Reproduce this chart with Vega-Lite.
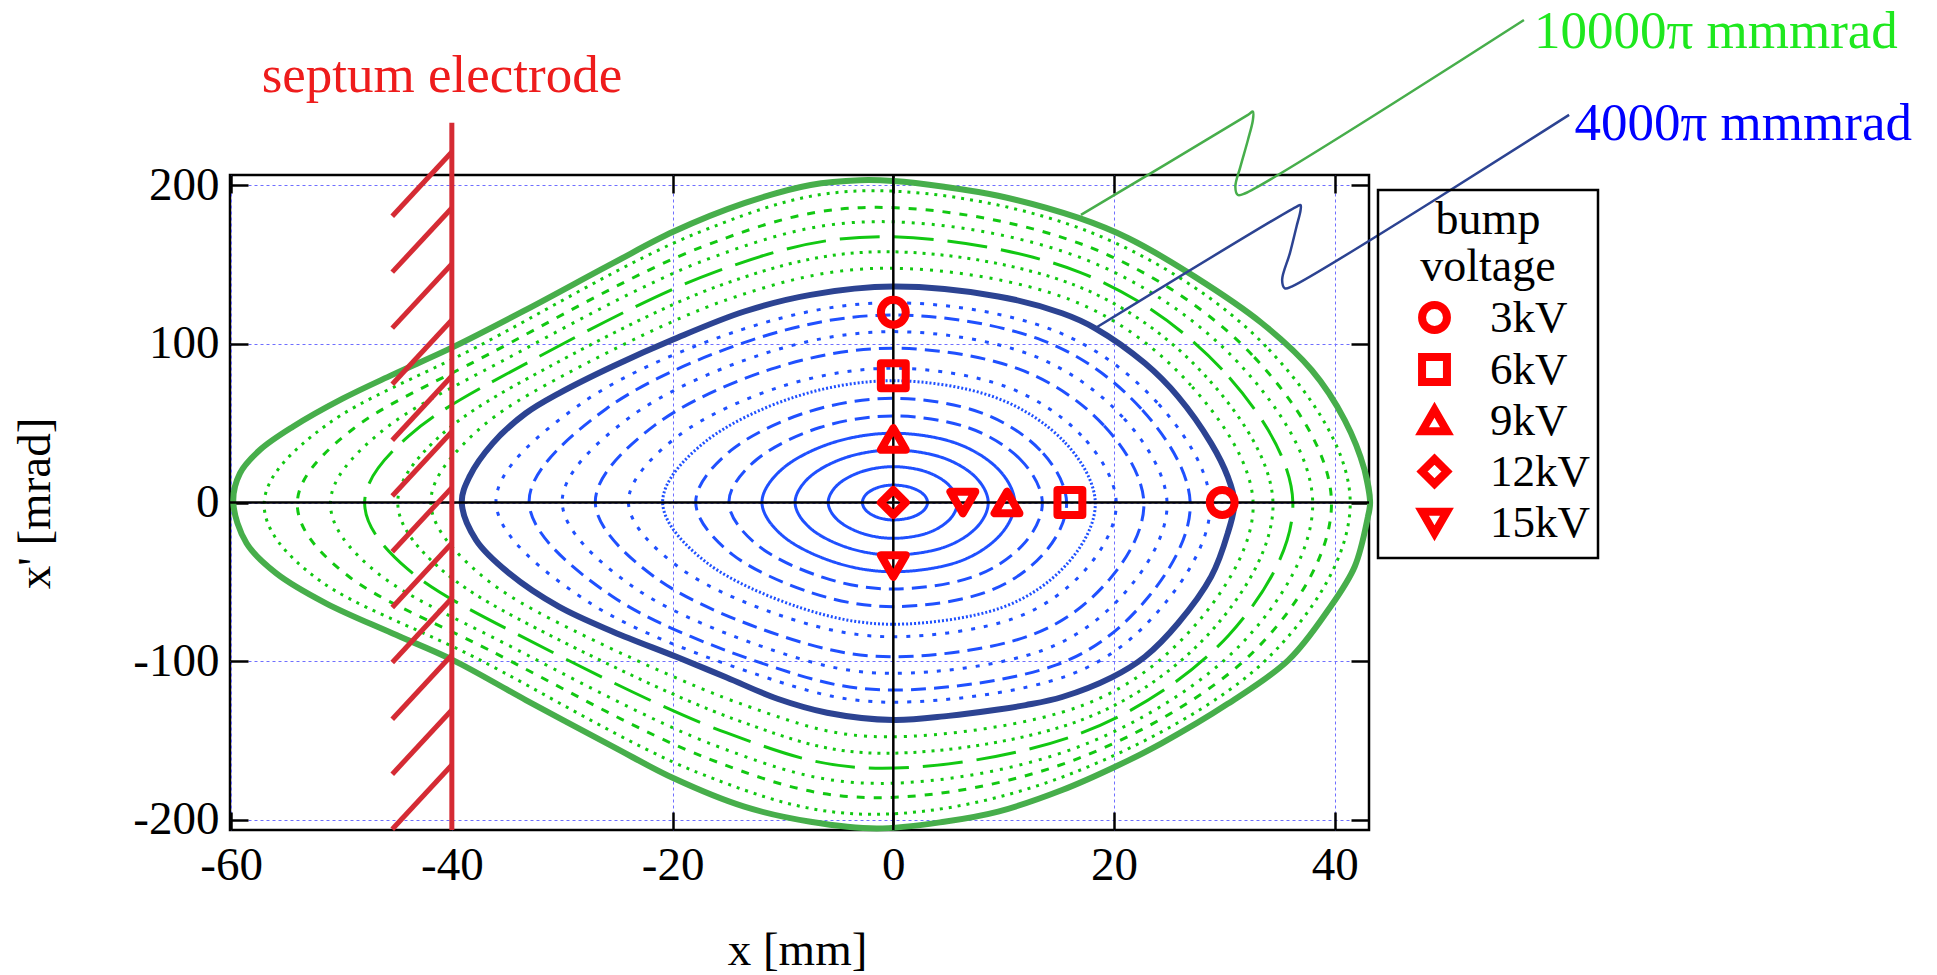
{
"$schema":"https://vega.github.io/schema/vega-lite/v6.json",
"width":1139,"height":655,
"autosize":{"type":"none"},
"padding":{"left":230,"top":175,"right":568,"bottom":145},
"background":"white",
"config":{
 "view":{"stroke":"black","strokeWidth":2.5},
 "font":"Liberation Serif",
 "axis":{"labelFont":"Liberation Serif","titleFont":"Liberation Serif","labelFontSize":47,"titleFontSize":47,"titleFontWeight":"normal","labelColor":"black","titleColor":"black","tickColor":"black","tickWidth":2.5,"domain":false,"gridColor":"#6f6fff","gridDash":[3,3],"gridWidth":1,"labelFlush":false,"labelOverlap":false,"labelExpr":"'' + datum.value"},
 "legend":{"strokeWidth":2.5}
},
"datasets":{
"blue":[
{"c":"b1","k":0,"x":3.1,"y":0},{"c":"b1","k":1,"x":2.68,"y":5.5},{"c":"b1","k":2,"x":1.55,"y":9.53},{"c":"b1","k":3,"x":0,"y":11},{"c":"b1","k":4,"x":-1.37,"y":9.53},{"c":"b1","k":5,"x":-2.41,"y":5.5},{"c":"b1","k":6,"x":-2.8,"y":0},{"c":"b1","k":7,"x":-2.4,"y":-5.5},{"c":"b1","k":8,"x":-1.36,"y":-9.53},{"c":"b1","k":9,"x":0,"y":-11},{"c":"b1","k":10,"x":1.56,"y":-9.53},{"c":"b1","k":11,"x":2.68,"y":-5.5},
{"c":"b2","k":0,"x":5.8,"y":0},{"c":"b2","k":1,"x":4.99,"y":11.3},{"c":"b2","k":2,"x":2.9,"y":19.57},{"c":"b2","k":3,"x":0,"y":22.6},{"c":"b2","k":4,"x":-2.82,"y":19.57},{"c":"b2","k":5,"x":-5.02,"y":11.3},{"c":"b2","k":6,"x":-5.9,"y":0},{"c":"b2","k":7,"x":-5.0,"y":-11.3},{"c":"b2","k":8,"x":-2.77,"y":-19.57},{"c":"b2","k":9,"x":0,"y":-22.6},{"c":"b2","k":10,"x":2.96,"y":-19.57},{"c":"b2","k":11,"x":5.02,"y":-11.3},
{"c":"b3","k":0,"x":8.6,"y":0},{"c":"b3","k":1,"x":7.37,"y":16.55},{"c":"b3","k":2,"x":4.3,"y":28.66},{"c":"b3","k":3,"x":0,"y":33.1},{"c":"b3","k":4,"x":-4.17,"y":28.66},{"c":"b3","k":5,"x":-7.5,"y":16.55},{"c":"b3","k":6,"x":-8.9,"y":0},{"c":"b3","k":7,"x":-7.47,"y":-16.55},{"c":"b3","k":8,"x":-4.06,"y":-28.66},{"c":"b3","k":9,"x":0,"y":-33.1},{"c":"b3","k":10,"x":4.42,"y":-28.66},{"c":"b3","k":11,"x":7.43,"y":-16.55},
{"c":"b4","k":0,"x":11,"y":0},{"c":"b4","k":1,"x":9.39,"y":21.85},{"c":"b4","k":2,"x":5.5,"y":37.84},{"c":"b4","k":3,"x":0,"y":43.7},{"c":"b4","k":4,"x":-5.44,"y":37.84},{"c":"b4","k":5,"x":-9.95,"y":21.85},{"c":"b4","k":6,"x":-11.9,"y":0},{"c":"b4","k":7,"x":-9.88,"y":-21.85},{"c":"b4","k":8,"x":-5.25,"y":-37.84},{"c":"b4","k":9,"x":0,"y":-43.7},{"c":"b4","k":10,"x":5.71,"y":-37.84},{"c":"b4","k":11,"x":9.5,"y":-21.85},
{"c":"b5","k":0,"x":13.5,"y":0},{"c":"b5","k":1,"x":11.49,"y":27.3},{"c":"b5","k":2,"x":6.75,"y":47.28},{"c":"b5","k":3,"x":0,"y":54.6},{"c":"b5","k":4,"x":-6.66,"y":47.28},{"c":"b5","k":5,"x":-12.35,"y":27.3},{"c":"b5","k":6,"x":-14.9,"y":0},{"c":"b5","k":7,"x":-12.23,"y":-27.3},{"c":"b5","k":8,"x":-6.36,"y":-47.28},{"c":"b5","k":9,"x":0,"y":-54.6},{"c":"b5","k":10,"x":7.06,"y":-47.28},{"c":"b5","k":11,"x":11.66,"y":-27.3},
{"c":"b6","k":0,"x":15.7,"y":0},{"c":"b6","k":1,"x":13.33,"y":32.85},{"c":"b6","k":2,"x":7.85,"y":56.9},{"c":"b6","k":3,"x":0,"y":65.7},{"c":"b6","k":4,"x":-7.84,"y":56.9},{"c":"b6","k":5,"x":-14.71,"y":32.85},{"c":"b6","k":6,"x":-17.9,"y":0},{"c":"b6","k":7,"x":-14.57,"y":-32.85},{"c":"b6","k":8,"x":-7.43,"y":-56.9},{"c":"b6","k":9,"x":0,"y":-65.7},{"c":"b6","k":10,"x":8.27,"y":-56.9},{"c":"b6","k":11,"x":13.55,"y":-32.85},
{"c":"b7","k":0,"x":18.3,"y":0},{"c":"b7","k":1,"x":15.48,"y":38.4},{"c":"b7","k":2,"x":9.15,"y":66.51},{"c":"b7","k":3,"x":0,"y":76.8},{"c":"b7","k":4,"x":-8.95,"y":66.51},{"c":"b7","k":5,"x":-17.03,"y":38.4},{"c":"b7","k":6,"x":-20.9,"y":0},{"c":"b7","k":7,"x":-16.82,"y":-38.4},{"c":"b7","k":8,"x":-8.36,"y":-66.51},{"c":"b7","k":9,"x":0,"y":-76.8},{"c":"b7","k":10,"x":9.74,"y":-66.51},{"c":"b7","k":11,"x":15.79,"y":-38.4},
{"c":"b8","k":0,"x":20.2,"y":0},{"c":"b8","k":1,"x":17.03,"y":42.35},{"c":"b8","k":2,"x":10.1,"y":73.35},{"c":"b8","k":3,"x":0,"y":84.7},{"c":"b8","k":4,"x":-10.06,"y":73.35},{"c":"b8","k":5,"x":-19.42,"y":42.35},{"c":"b8","k":6,"x":-24,"y":0},{"c":"b8","k":7,"x":-19.13,"y":-42.35},{"c":"b8","k":8,"x":-9.31,"y":-73.35},{"c":"b8","k":9,"x":0,"y":-84.7},{"c":"b8","k":10,"x":10.83,"y":-73.35},{"c":"b8","k":11,"x":17.41,"y":-42.35},
{"c":"b9","k":0,"x":22.7,"y":0},{"c":"b9","k":1,"x":19.07,"y":48.65},{"c":"b9","k":2,"x":11.35,"y":84.26},{"c":"b9","k":3,"x":0,"y":97.3},{"c":"b9","k":4,"x":-11.02,"y":84.26},{"c":"b9","k":5,"x":-21.63,"y":48.65},{"c":"b9","k":6,"x":-27,"y":0},{"c":"b9","k":7,"x":-21.3,"y":-48.65},{"c":"b9","k":8,"x":-10.1,"y":-84.26},{"c":"b9","k":9,"x":0,"y":-97.3},{"c":"b9","k":10,"x":12.26,"y":-84.26},{"c":"b9","k":11,"x":19.57,"y":-48.65},
{"c":"b10","k":0,"x":24.8,"y":0},{"c":"b10","k":1,"x":20.78,"y":53.9},{"c":"b10","k":2,"x":12.4,"y":93.35},{"c":"b10","k":3,"x":0,"y":107.8},{"c":"b10","k":4,"x":-11.97,"y":93.35},{"c":"b10","k":5,"x":-23.85,"y":53.9},{"c":"b10","k":6,"x":-30,"y":0},{"c":"b10","k":7,"x":-23.43,"y":-53.9},{"c":"b10","k":8,"x":-10.83,"y":-93.35},{"c":"b10","k":9,"x":0,"y":-107.8},{"c":"b10","k":10,"x":13.49,"y":-93.35},{"c":"b10","k":11,"x":21.35,"y":-53.9},
{"c":"b11","k":0,"x":26.9,"y":0},{"c":"b11","k":1,"x":22.46,"y":59.15},{"c":"b11","k":2,"x":13.45,"y":102.45},{"c":"b11","k":3,"x":0,"y":118.3},{"c":"b11","k":4,"x":-12.84,"y":102.45},{"c":"b11","k":5,"x":-26.0,"y":59.15},{"c":"b11","k":6,"x":-33,"y":0},{"c":"b11","k":7,"x":-25.48,"y":-59.15},{"c":"b11","k":8,"x":-11.45,"y":-102.45},{"c":"b11","k":9,"x":0,"y":-118.3},{"c":"b11","k":10,"x":14.77,"y":-102.45},{"c":"b11","k":11,"x":23.16,"y":-59.15},
{"c":"b12","k":0,"x":28.7,"y":0},{"c":"b12","k":1,"x":23.91,"y":63},{"c":"b12","k":2,"x":14.35,"y":109.1},{"c":"b12","k":3,"x":0,"y":126},{"c":"b12","k":4,"x":-13.72,"y":109.1},{"c":"b12","k":5,"x":-28.15,"y":63},{"c":"b12","k":6,"x":-36,"y":0},{"c":"b12","k":7,"x":-27.58,"y":-63},{"c":"b12","k":8,"x":-12.1,"y":-109.1},{"c":"b12","k":9,"x":0,"y":-126},{"c":"b12","k":10,"x":15.84,"y":-109.1},{"c":"b12","k":11,"x":24.68,"y":-63}
],
"green":[
{"c":"g1","k":0,"x":32.6,"y":0},{"c":"g1","k":1,"x":26.96,"y":73.9},{"c":"g1","k":2,"x":16.0,"y":128},{"c":"g1","k":3,"x":-0.5,"y":147.8},{"c":"g1","k":4,"x":-15.04,"y":128},{"c":"g1","k":5,"x":-31.55,"y":73.9},{"c":"g1","k":6,"x":-38.93,"y":36.95},{"c":"g1","k":7,"x":-41.9,"y":0},{"c":"g1","k":8,"x":-38.76,"y":-36.95},{"c":"g1","k":9,"x":-30.92,"y":-73.9},{"c":"g1","k":10,"x":-13.41,"y":-128},{"c":"g1","k":11,"x":-0.5,"y":-147.8},{"c":"g1","k":12,"x":17.15,"y":-128},{"c":"g1","k":13,"x":27.78,"y":-73.9},
{"c":"g2","k":0,"x":34.4,"y":0},{"c":"g2","k":1,"x":28.38,"y":79.1},{"c":"g2","k":2,"x":16.48,"y":137},{"c":"g2","k":3,"x":-0.7,"y":158.2},{"c":"g2","k":4,"x":-15.67,"y":137},{"c":"g2","k":5,"x":-32.91,"y":79.1},{"c":"g2","k":6,"x":-41.44,"y":39.55},{"c":"g2","k":7,"x":-44.9,"y":0},{"c":"g2","k":8,"x":-41.4,"y":-39.55},{"c":"g2","k":9,"x":-32.42,"y":-79.1},{"c":"g2","k":10,"x":-14.28,"y":-137},{"c":"g2","k":11,"x":-0.7,"y":-158.2},{"c":"g2","k":12,"x":17.13,"y":-137},{"c":"g2","k":13,"x":29.07,"y":-79.1},
{"c":"g3","k":0,"x":36.2,"y":0},{"c":"g3","k":1,"x":29.79,"y":83.85},{"c":"g3","k":2,"x":16.91,"y":145.2},{"c":"g3","k":3,"x":-1,"y":167.7},{"c":"g3","k":4,"x":-16.24,"y":145.2},{"c":"g3","k":5,"x":-34.3,"y":83.85},{"c":"g3","k":6,"x":-43.92,"y":41.9},{"c":"g3","k":7,"x":-47.9,"y":0},{"c":"g3","k":8,"x":-44.02,"y":-41.9},{"c":"g3","k":9,"x":-33.87,"y":-83.85},{"c":"g3","k":10,"x":-15.14,"y":-145.2},{"c":"g3","k":11,"x":-1,"y":-167.7},{"c":"g3","k":12,"x":17.12,"y":-145.2},{"c":"g3","k":13,"x":30.37,"y":-83.85},
{"c":"g4","k":0,"x":38,"y":0},{"c":"g4","k":1,"x":31.2,"y":88.6},{"c":"g4","k":2,"x":17.33,"y":153.5},{"c":"g4","k":3,"x":-1.2,"y":177.2},{"c":"g4","k":4,"x":-16.83,"y":153.5},{"c":"g4","k":5,"x":-35.6,"y":88.6},{"c":"g4","k":6,"x":-46.46,"y":44.3},{"c":"g4","k":7,"x":-51,"y":0},{"c":"g4","k":8,"x":-46.77,"y":-44.3},{"c":"g4","k":9,"x":-35.29,"y":-88.6},{"c":"g4","k":10,"x":-16.07,"y":-153.5},{"c":"g4","k":11,"x":-1.2,"y":-177.2},{"c":"g4","k":12,"x":17.02,"y":-153.5},{"c":"g4","k":13,"x":31.62,"y":-88.6},
{"c":"g5","k":0,"x":39.7,"y":0},{"c":"g5","k":1,"x":32.51,"y":93.1},{"c":"g5","k":2,"x":17.71,"y":161.25},{"c":"g5","k":3,"x":-1.5,"y":186.2},{"c":"g5","k":4,"x":-17.33,"y":161.25},{"c":"g5","k":5,"x":-36.77,"y":93.1},{"c":"g5","k":6,"x":-48.92,"y":46.55},{"c":"g5","k":7,"x":-54,"y":0},{"c":"g5","k":8,"x":-49.36,"y":-46.55},{"c":"g5","k":9,"x":-36.61,"y":-93.1},{"c":"g5","k":10,"x":-16.9,"y":-161.25},{"c":"g5","k":11,"x":-1.5,"y":-186.2},{"c":"g5","k":12,"x":16.83,"y":-161.25},{"c":"g5","k":13,"x":32.79,"y":-93.1},
{"c":"g6","k":0,"x":41.4,"y":0},{"c":"g6","k":1,"x":33.78,"y":98.35},{"c":"g6","k":2,"x":17.93,"y":170.3},{"c":"g6","k":3,"x":-1.8,"y":196.7},{"c":"g6","k":4,"x":-17.67,"y":170.3},{"c":"g6","k":5,"x":-37.68,"y":98.35},{"c":"g6","k":6,"x":-51.3,"y":49.2},{"c":"g6","k":7,"x":-57,"y":0},{"c":"g6","k":8,"x":-51.98,"y":-49.2},{"c":"g6","k":9,"x":-37.73,"y":-98.35},{"c":"g6","k":10,"x":-17.73,"y":-170.3},{"c":"g6","k":11,"x":-1.8,"y":-196.7},{"c":"g6","k":12,"x":16.39,"y":-170.3},{"c":"g6","k":13,"x":33.91,"y":-98.35}
],
"navy":[
{"k":-1,"x":30.3,"y":-19.4},
{"k":0,"x":30.9,"y":0},{"k":1,"x":30.3,"y":16.3},{"k":2,"x":28.8,"y":37.3},{"k":3,"x":25.8,"y":66.8},{"k":4,"x":22.8,"y":87.8},{"k":5,"x":18.3,"y":109.9},{"k":6,"x":15.3,"y":119.4},{"k":7,"x":9.5,"y":130},{"k":8,"x":0,"y":136.2},{"k":9,"x":-7.5,"y":131.0},{"k":10,"x":-13.5,"y":120.5},{"k":11,"x":-19.9,"y":103.0},{"k":12,"x":-25.4,"y":86.0},{"k":13,"x":-30.3,"y":68.9},{"k":14,"x":-33.3,"y":56.3},{"k":15,"x":-36.3,"y":37.3},{"k":16,"x":-38.4,"y":16.3},{"k":17,"x":-39.1,"y":0},{"k":18,"x":-37.8,"y":-23.7},{"k":19,"x":-34.8,"y":-44.7},{"k":20,"x":-30.3,"y":-65.7},{"k":21,"x":-25.4,"y":-81.5},{"k":22,"x":-19.6,"y":-97.5},{"k":23,"x":-15.1,"y":-110.4},{"k":24,"x":-10.5,"y":-123.8},{"k":25,"x":-6,"y":-132.6},{"k":26,"x":0,"y":-137.2},{"k":27,"x":5,"y":-134.6},{"k":28,"x":9.5,"y":-130.6},{"k":29,"x":12,"y":-127.8},{"k":30,"x":15.3,"y":-122.7},{"k":31,"x":19.8,"y":-110.3},{"k":32,"x":22.8,"y":-97.3},{"k":33,"x":25.8,"y":-76.2},{"k":34,"x":28.8,"y":-46.8},{"k":35,"x":30.3,"y":-19.4},
{"k":36,"x":30.9,"y":0},{"k":37,"x":30.3,"y":16.3}
],
"gthick":[
{"k":-1,"x":43,"y":-9},
{"k":0,"x":43.2,"y":0},{"k":1,"x":42.7,"y":20.5},{"k":2,"x":40.9,"y":52},{"k":3,"x":37.9,"y":83.6},{"k":4,"x":33.4,"y":113.1},{"k":5,"x":27.3,"y":142.5},{"k":6,"x":21.3,"y":166.7},{"k":7,"x":16.8,"y":179.5},{"k":8,"x":9.5,"y":193.5},{"k":9,"x":4.6,"y":199.2},{"k":10,"x":0,"y":202.8},{"k":11,"x":-3,"y":203.3},{"k":12,"x":-7.5,"y":200.3},{"k":13,"x":-13.5,"y":188.8},{"k":14,"x":-19.9,"y":170.9},{"k":15,"x":-25.4,"y":151},{"k":16,"x":-33.3,"y":121.5},{"k":17,"x":-39.9,"y":98},{"k":18,"x":-45.4,"y":80.5},{"k":19,"x":-49.9,"y":65.5},{"k":20,"x":-54.4,"y":47.8},{"k":21,"x":-57.4,"y":33.1},{"k":22,"x":-59.2,"y":18.4},{"k":23,"x":-59.8,"y":0},{"k":24,"x":-58.6,"y":-25.7},{"k":25,"x":-55.9,"y":-44.7},{"k":26,"x":-51.4,"y":-63.6},{"k":27,"x":-45.4,"y":-82.5},{"k":28,"x":-39.9,"y":-99.4},{"k":29,"x":-33.3,"y":-124.6},{"k":30,"x":-25.4,"y":-154},{"k":31,"x":-19.9,"y":-174},{"k":32,"x":-13.5,"y":-191.9},{"k":33,"x":-7.5,"y":-201.4},{"k":34,"x":-1.5,"y":-205.6},{"k":35,"x":4.6,"y":-201.4},{"k":36,"x":9.5,"y":-195},{"k":37,"x":15.3,"y":-181.4},{"k":38,"x":20.1,"y":-166.7},{"k":39,"x":24.3,"y":-151.9},{"k":40,"x":30.3,"y":-127},{"k":41,"x":35.8,"y":-99.4},{"k":42,"x":39.4,"y":-67.8},{"k":43,"x":41.8,"y":-40.5},{"k":44,"x":43,"y":-9},
{"k":45,"x":43.2,"y":0},{"k":46,"x":42.7,"y":20.5}
],
"lead":[
{"c":"g","k":0,"x":17.0,"y":181.4},{"c":"g","k":1,"x":32.13,"y":244.5},{"c":"g","k":2,"x":32.58,"y":246.6},{"c":"g","k":3,"x":32.58,"y":241.3},{"c":"g","k":4,"x":32.13,"y":228.7},{"c":"g","k":5,"x":31.45,"y":211.9},{"c":"g","k":6,"x":30.99,"y":199.2},{"c":"g","k":7,"x":31.22,"y":194.0},{"c":"g","k":8,"x":31.9,"y":195.1},{"c":"g","k":9,"x":57.14,"y":304.4},
{"c":"b","k":0,"x":18.28,"y":109.9},{"c":"b","k":1,"x":36.47,"y":186.4},{"c":"b","k":2,"x":36.9,"y":187.7},{"c":"b","k":3,"x":36.9,"y":184.5},{"c":"b","k":4,"x":36.53,"y":174},{"c":"b","k":5,"x":35.93,"y":157.2},{"c":"b","k":6,"x":35.23,"y":140.4},{"c":"b","k":7,"x":35.48,"y":135.1},{"c":"b","k":8,"x":36.09,"y":136.2},{"c":"b","k":9,"x":61.23,"y":244.5}
],
"septum":[
{"x":-40,"x2":-40,"y":-206.6,"y2":239.6},
{"x":-40,"x2":-45.4,"y":221.1,"y2":180.6},{"x":-40,"x2":-45.4,"y":185.8,"y2":145.3},{"x":-40,"x2":-45.4,"y":150.5,"y2":110.0},{"x":-40,"x2":-45.4,"y":115.1,"y2":74.6},{"x":-40,"x2":-45.4,"y":79.8,"y2":39.3},{"x":-40,"x2":-45.4,"y":44.6,"y2":4.1},{"x":-40,"x2":-45.4,"y":9.4,"y2":-31.1},{"x":-40,"x2":-45.4,"y":-25.7,"y2":-66.2},{"x":-40,"x2":-45.4,"y":-60.4,"y2":-100.9},{"x":-40,"x2":-45.4,"y":-96.2,"y2":-136.7},{"x":-40,"x2":-45.4,"y":-130.9,"y2":-171.4},{"x":-40,"x2":-45.4,"y":-165.6,"y2":-206.1}
],
"marks":[
{"v":"3kV","x":0,"y":120},{"v":"3kV","x":29.8,"y":0},{"v":"6kV","x":0,"y":80},{"v":"6kV","x":16,"y":0},{"v":"9kV","x":0,"y":40},{"v":"9kV","x":10.3,"y":0},{"v":"12kV","x":0,"y":0},{"v":"15kV","x":0,"y":-40},{"v":"15kV","x":6.3,"y":0}
]
},
"layer":[
{"data":{"name":"blue"},
 "mark":{"type":"line","interpolate":"cardinal-closed","color":"#1f50ff","strokeWidth":3},
 "encoding":{
  "x":{"field":"x","type":"quantitative","scale":{"domain":[-60.1,43.1],"nice":false,"zero":false},
   "axis":{"orient":"bottom","values":[-60,-40,-20,0,20,40],"title":"x [mm]","tickSize":-18,"labelPadding":30,"grid":true,"titleX":567,"titleY":134.5,"titleAlign":"center","titleBaseline":"alphabetic"}},
  "y":{"field":"y","type":"quantitative","scale":{"domain":[-206.6,206.6],"nice":false,"zero":false},
   "axis":{"orient":"left","values":[-200,-100,0,100,200],"title":"x' [mrad]","tickSize":-18,"labelPadding":29,"grid":true,"titleX":-180.5,"titleY":328,"titleAngle":-90,"titleAlign":"center","titleBaseline":"alphabetic"}},
  "strokeDash":{"field":"c","type":"nominal","legend":null,"scale":{
   "domain":["b1","b2","b3","b4","b5","b6","b7","b8","b9","b10","b11","b12","g1","g2","g3","g4","g5","g6"],
   "range":[[1,0],[1,0],[1,0],[1,0],[15,8],[15,8],[2,2],[4,9],[15,8],[4,9],[15,8],[4,9],[3,7],[3,6],[40,14],[3,7],[8,9],[3,6]]}},
  "order":{"field":"k","type":"quantitative"}
 }},
{"data":{"name":"green"},
 "mark":{"type":"line","interpolate":"cardinal-closed","color":"#12c812","strokeWidth":3},
 "encoding":{
  "x":{"field":"x","type":"quantitative","scale":{"domain":[-60.1,43.1],"nice":false,"zero":false},
   "axis":{"orient":"top","values":[-60,-40,-20,0,20,40],"labels":false,"title":null,"tickSize":-18,"grid":false}},
  "y":{"field":"y","type":"quantitative","scale":{"domain":[-206.6,206.6],"nice":false,"zero":false},
   "axis":{"orient":"right","values":[-200,-100,0,100,200],"labels":false,"title":null,"tickSize":-18,"grid":false}},
  "strokeDash":{"field":"c","type":"nominal","legend":null},
  "order":{"field":"k","type":"quantitative"}
 }},
{"data":{"name":"navy"},
 "mark":{"type":"line","interpolate":"catmull-rom","color":"#2c4392","strokeWidth":6},
 "encoding":{
  "x":{"field":"x","type":"quantitative","scale":{"domain":[-60.1,43.1],"nice":false,"zero":false},"axis":null},
  "y":{"field":"y","type":"quantitative","scale":{"domain":[-206.6,206.6],"nice":false,"zero":false},"axis":null},
  "order":{"field":"k","type":"quantitative"}
 }},
{"data":{"name":"gthick"},
 "mark":{"type":"line","interpolate":"catmull-rom","color":"#47ae4b","strokeWidth":6},
 "encoding":{
  "x":{"field":"x","type":"quantitative","scale":{"domain":[-60.1,43.1],"nice":false,"zero":false},"axis":null},
  "y":{"field":"y","type":"quantitative","scale":{"domain":[-206.6,206.6],"nice":false,"zero":false},"axis":null},
  "order":{"field":"k","type":"quantitative"}
 }},
{"data":{"values":[{"x":0}]},
 "mark":{"type":"rule","color":"black","strokeWidth":2.5},
 "encoding":{"x":{"field":"x","type":"quantitative","scale":{"domain":[-60.1,43.1],"nice":false,"zero":false},"axis":null}}},
{"data":{"values":[{"y":0}]},
 "mark":{"type":"rule","color":"black","strokeWidth":2.5},
 "encoding":{"y":{"field":"y","type":"quantitative","scale":{"domain":[-206.6,206.6],"nice":false,"zero":false},"axis":null}}},
{"data":{"name":"septum"},
 "mark":{"type":"rule","color":"#d52b34","strokeWidth":5},
 "encoding":{
  "x":{"field":"x","type":"quantitative","scale":{"domain":[-60.1,43.1],"nice":false,"zero":false},"axis":null},
  "x2":{"field":"x2"},
  "y":{"field":"y","type":"quantitative","scale":{"domain":[-206.6,206.6],"nice":false,"zero":false},"axis":null},
  "y2":{"field":"y2"}
 }},
{"data":{"name":"lead"},
 "transform":[{"filter":"datum.c === 'g'"}],
 "mark":{"type":"line","interpolate":"catmull-rom","color":"#47ae4b","strokeWidth":2.5},
 "encoding":{
  "x":{"field":"x","type":"quantitative","scale":{"domain":[-60.1,43.1],"nice":false,"zero":false},"axis":null},
  "y":{"field":"y","type":"quantitative","scale":{"domain":[-206.6,206.6],"nice":false,"zero":false},"axis":null},
  "order":{"field":"k","type":"quantitative"}
 }},
{"data":{"name":"lead"},
 "transform":[{"filter":"datum.c === 'b'"}],
 "mark":{"type":"line","interpolate":"catmull-rom","color":"#2c4392","strokeWidth":2.5},
 "encoding":{
  "x":{"field":"x","type":"quantitative","scale":{"domain":[-60.1,43.1],"nice":false,"zero":false},"axis":null},
  "y":{"field":"y","type":"quantitative","scale":{"domain":[-206.6,206.6],"nice":false,"zero":false},"axis":null},
  "order":{"field":"k","type":"quantitative"}
 }},
{"data":{"name":"marks"},
 "mark":{"type":"point","filled":false,"color":"#ff0000","strokeWidth":8,"size":620,"strokeJoin":"round","opacity":1},
 "encoding":{
  "x":{"field":"x","type":"quantitative","scale":{"domain":[-60.1,43.1],"nice":false,"zero":false},"axis":null},
  "y":{"field":"y","type":"quantitative","scale":{"domain":[-206.6,206.6],"nice":false,"zero":false},"axis":null},
  "shape":{"field":"v","type":"nominal","scale":{"domain":["3kV","6kV","9kV","12kV","15kV"],"range":["circle","square","triangle-up","diamond","triangle-down"]},
   "legend":{"orient":"none","legendX":1148,"legendY":15,"title":["bump","voltage"],"titleFont":"Liberation Serif","titleFontSize":46,"titleFontWeight":"normal","titleColor":"black","titleLineHeight":47,"titleAnchor":"middle","titlePadding":4,"labelFont":"Liberation Serif","labelFontSize":45,"labelColor":"black","labelOffset":33,"symbolSize":620,"symbolStrokeWidth":8,"symbolStrokeColor":"#ff0000","symbolOffset":26,"strokeColor":"black","padding":8,"rowPadding":-5}}
 }},
{"data":{"values":[{"t":"septum electrode","x":-40.9,"y":259}]},
 "mark":{"type":"text","align":"center","baseline":"alphabetic","font":"Liberation Serif","fontSize":53,"color":"#ee1c1c"},
 "encoding":{
  "x":{"field":"x","type":"quantitative","scale":{"domain":[-60.1,43.1],"nice":false,"zero":false},"axis":null},
  "y":{"field":"y","type":"quantitative","scale":{"domain":[-206.6,206.6],"nice":false,"zero":false},"axis":null},
  "text":{"field":"t"}
 }},
{"data":{"values":[{"t":"10000π mmmrad","x":58.05,"y":286.6}]},
 "mark":{"type":"text","align":"left","baseline":"alphabetic","font":"Liberation Serif","fontSize":53,"color":"#1ee81e"},
 "encoding":{
  "x":{"field":"x","type":"quantitative","scale":{"domain":[-60.1,43.1],"nice":false,"zero":false},"axis":null},
  "y":{"field":"y","type":"quantitative","scale":{"domain":[-206.6,206.6],"nice":false,"zero":false},"axis":null},
  "text":{"field":"t"}
 }},
{"data":{"values":[{"t":"4000π mmmrad","x":61.73,"y":228.7}]},
 "mark":{"type":"text","align":"left","baseline":"alphabetic","font":"Liberation Serif","fontSize":53,"color":"#0000ff"},
 "encoding":{
  "x":{"field":"x","type":"quantitative","scale":{"domain":[-60.1,43.1],"nice":false,"zero":false},"axis":null},
  "y":{"field":"y","type":"quantitative","scale":{"domain":[-206.6,206.6],"nice":false,"zero":false},"axis":null},
  "text":{"field":"t"}
 }}
]
}
